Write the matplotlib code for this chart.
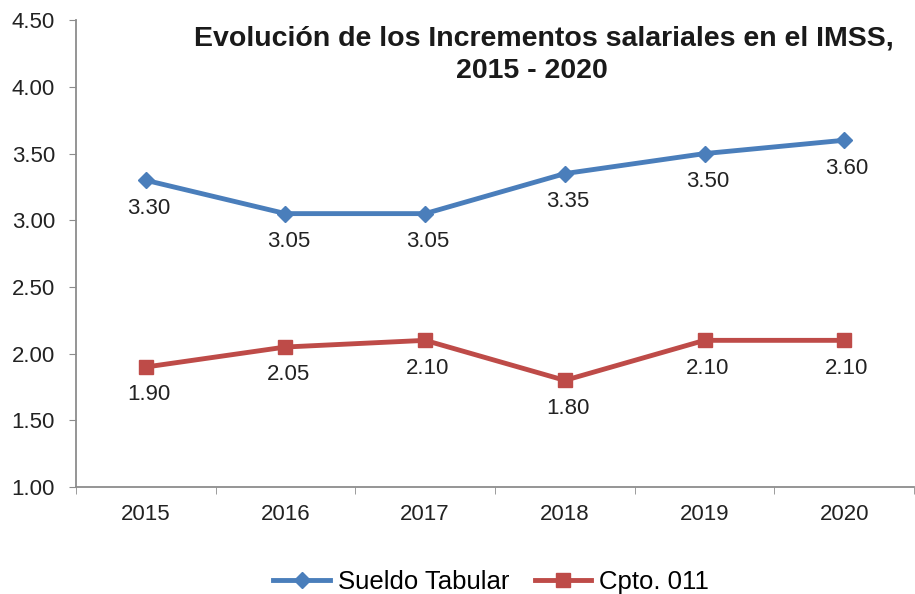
import matplotlib
matplotlib.use('Agg')
import matplotlib.pyplot as plt
from matplotlib.ticker import FixedLocator, FormatStrFormatter

plt.rcParams['font.family'] = ['Liberation Sans', 'DejaVu Sans']

anios = ['2015', '2016', '2017', '2018', '2019', '2020']
sueldo_tabular = [3.30, 3.05, 3.05, 3.35, 3.50, 3.60]
cpto_011 = [1.90, 2.05, 2.10, 1.80, 2.10, 2.10]

azul = '#4A7EBB'
rojo = '#BE4B48'
gris = '#8C8C8C'

fig = plt.figure(figsize=(9.15, 5.94), dpi=100)
ax = fig.add_axes([0.083, 0.18, 0.916, 0.786])

x = list(range(len(anios)))
ax.plot(x, sueldo_tabular, color=azul, lw=3.5, marker='D', ms=8,
        label='Sueldo Tabular')
ax.plot(x, cpto_011, color=rojo, lw=3.5, marker='s', ms=10,
        label='Cpto. 011')

# etiquetas de datos debajo de cada punto
for serie in (sueldo_tabular, cpto_011):
    for xi, v in zip(x, serie):
        ax.annotate('%.2f' % v, (xi, v), xytext=(2, -20),
                    textcoords='offset points', ha='center', va='center',
                    fontsize=16, color='#222222')

ax.set_xlim(-0.5, 5.5)
ax.set_ylim(1.0, 4.5)
ax.set_yticks([1.0, 1.5, 2.0, 2.5, 3.0, 3.5, 4.0, 4.5])
ax.yaxis.set_major_formatter(FormatStrFormatter('%.2f'))
ax.set_xticks(x)
ax.set_xticklabels(anios)
ax.xaxis.set_minor_locator(FixedLocator([i - 0.5 for i in range(7)]))

ax.tick_params(axis='x', which='major', length=0, pad=12, labelsize=16,
               labelcolor='#222222')
ax.tick_params(axis='x', which='minor', length=5, color=gris, direction='out')
ax.tick_params(axis='y', length=5, color=gris, labelsize=16,
               labelcolor='#222222', pad=10)

for s in ['top', 'right']:
    ax.spines[s].set_visible(False)
for s in ['left', 'bottom']:
    ax.spines[s].set_color(gris)
    ax.spines[s].set_linewidth(1.3)

fig.text(544 / 915, 1 - 38 / 594,
         'Evolución de los Incrementos salariales en el IMSS,',
         ha='center', va='center', fontsize=20.5, fontweight='bold',
         color='#1a1a1a')
fig.text(532 / 915, 1 - 71 / 594, '2015 - 2020',
         ha='center', va='center', fontsize=20.5, fontweight='bold',
         color='#1a1a1a')

fig.legend(loc='center', bbox_to_anchor=(491 / 915, 12 / 594), ncol=2,
           frameon=False, fontsize=18.5, handlelength=2.2, columnspacing=1.0,
           handletextpad=0.3)

fig.savefig('out.png', dpi=100)
